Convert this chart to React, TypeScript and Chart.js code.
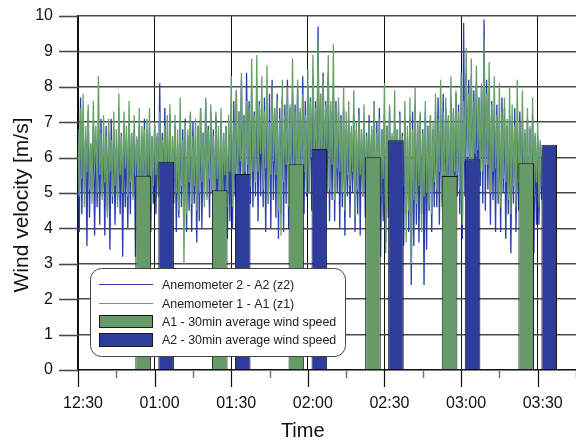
import React, { useEffect, useRef } from 'react';
import { Chart, registerables } from 'chart.js';

Chart.register(...registerables);

// ---- data ----
// minutes after 12:30
const tickMinutes = [0, 30, 60, 90, 120, 150, 180];
const tickLabels = ['12:30', '01:00', '01:30', '02:00', '02:30', '03:00', '03:30'];
const axisMinMinutes = 0;
const axisMaxMinutes = 195;

const barMinutes = [30, 60, 90, 120, 150, 180];
const a1Average = [5.49, 5.08, 5.81, 6.01, 5.48, 5.84];
const a2Average = [5.88, 5.54, 6.24, 6.49, 5.95, 6.36];

const sampleStartMinute = 0;
const sampleStepMinutes = 0.5;

// Anemometer 2 - A2 (z2), one value every 30 s
const a2Samples = [
  6.2, 3.9, 7.7, 4.4, 7.0, 5.0, 6.6, 3.5, 7.3, 4.3, 6.4, 5.1, 6.9, 3.8, 6.5, 4.6, 6.8, 4.1, 7.1, 4.9,
  6.4, 3.8, 6.9, 4.5, 6.7, 3.4, 7.1, 4.7, 6.8, 4.1, 6.3, 4.8, 7.0, 4.4, 6.7, 3.2, 6.9, 4.6, 6.5, 4.0,
  7.0, 4.4, 6.7, 4.9, 6.8, 3.2, 6.5, 4.5, 6.9, 4.4, 6.6, 4.8, 7.1, 4.2, 6.4, 4.6, 6.8, 3.9, 6.6, 4.7,
  6.9, 4.4, 6.6, 4.9, 8.1, 4.6, 6.7, 5.0, 7.4, 4.3, 6.5, 4.0, 7.2, 4.2, 6.6, 4.7, 6.9, 3.9, 6.4, 4.3,
  7.0, 4.6, 6.8, 4.1, 7.1, 3.9, 6.6, 4.5, 7.2, 3.9, 7.0, 4.7, 6.6, 3.6, 6.9, 4.2, 7.4, 4.0, 6.7, 4.8,
  7.6, 4.9, 6.9, 4.3, 7.3, 5.0, 6.8, 4.1, 7.2, 3.9, 6.6, 4.4, 7.0, 3.6, 6.7, 4.5, 6.9, 3.7, 6.5, 4.2,
  7.4, 4.0, 7.6, 4.9, 7.9, 4.3, 7.3, 5.0, 8.2, 4.6, 7.2, 4.5, 8.4, 5.3, 7.6, 4.7, 7.9, 4.6, 7.3, 4.9,
  8.0, 4.2, 7.6, 4.9, 7.2, 4.6, 7.7, 3.9, 7.5, 4.7, 7.8, 4.0, 8.2, 4.8, 7.4, 4.3, 7.8, 3.7, 7.4, 4.4,
  7.7, 3.9, 7.5, 4.7, 8.2, 4.0, 7.4, 4.8, 7.8, 4.3, 7.5, 5.0, 8.0, 4.5, 7.3, 5.1, 8.3, 4.4, 7.6, 4.9,
  8.0, 5.0, 7.7, 4.5, 8.3, 5.3, 7.6, 4.7, 9.7, 5.2, 7.8, 4.9, 8.4, 4.6, 7.6, 5.0, 8.4, 4.2, 7.3, 4.8,
  7.9, 4.2, 7.6, 5.0, 7.3, 4.0, 7.2, 4.6, 7.4, 3.8, 6.8, 4.9, 7.1, 4.3, 6.7, 5.0, 7.2, 3.9, 6.8, 4.4,
  7.4, 3.8, 6.8, 4.9, 7.1, 4.3, 6.7, 5.0, 7.2, 3.9, 6.8, 4.4, 7.6, 3.6, 7.0, 4.1, 7.4, 3.2, 6.8, 4.2,
  7.2, 3.6, 6.9, 4.3, 7.4, 4.0, 6.6, 3.4, 7.0, 4.5, 6.8, 3.7, 7.3, 4.2, 6.7, 3.5, 7.1, 4.4, 6.6, 3.9,
  7.1, 2.4, 7.3, 3.5, 7.5, 4.1, 6.9, 3.6, 7.2, 4.4, 6.8, 2.4, 7.3, 3.4, 6.9, 4.5, 7.2, 3.9, 6.8, 4.6,
  7.3, 4.6, 7.7, 4.1, 7.2, 4.8, 7.8, 4.2, 7.4, 4.7, 7.1, 4.0, 7.7, 4.6, 7.3, 4.3, 7.8, 4.9, 7.5, 4.4,
  7.4, 3.7, 9.8, 4.9, 8.4, 5.5, 8.2, 4.8, 8.3, 5.6, 7.9, 5.0, 8.1, 4.6, 7.7, 5.2, 8.0, 4.7, 9.9, 4.5,
  8.2, 5.1, 7.8, 4.1, 7.6, 4.8, 7.2, 3.9, 7.5, 4.7, 7.0, 3.9, 7.7, 5.0, 7.4, 3.7, 6.9, 4.4, 7.2, 3.3,
  7.0, 4.7, 7.4, 3.9, 6.8, 4.5, 7.3, 4.2, 7.0, 3.6, 6.7, 4.6, 7.1, 3.7, 6.8, 4.3, 7.2, 3.3, 6.6, 4.1,
  6.6, 4.1, 6.4, 4.8, 6.2,
];

// Anemometer 1 - A1 (z1), one value every 30 s
const a1Samples = [
  6.8, 4.9, 7.4, 5.4, 7.8, 4.6, 6.9, 5.6, 7.5, 5.1, 6.4, 4.7, 7.6, 5.8, 6.9, 5.0, 8.3, 5.5, 6.7, 4.8,
  7.2, 5.3, 6.6, 4.3, 7.1, 5.6, 6.5, 4.9, 7.3, 5.2, 6.8, 4.6, 7.8, 5.5, 6.6, 5.0, 7.3, 5.7, 6.9, 4.9,
  7.6, 5.3, 6.7, 4.8, 7.2, 5.6, 6.6, 5.1, 7.4, 4.6, 6.9, 5.4, 6.8, 5.0, 7.1, 5.5, 7.4, 4.7, 6.6, 5.2,
  7.0, 5.5, 6.7, 4.9, 7.3, 5.3, 6.5, 4.8, 6.9, 5.6, 7.2, 5.1, 7.5, 4.7, 6.6, 5.4, 7.2, 5.0, 6.8, 4.5,
  7.7, 5.2, 6.5, 3.0, 7.0, 4.4, 6.8, 5.3, 7.3, 4.7, 6.6, 5.2, 7.1, 4.5, 6.9, 5.0, 7.4, 5.3, 6.7, 4.6,
  7.7, 4.8, 6.8, 5.4, 7.5, 5.0, 6.6, 4.5, 7.3, 5.4, 6.9, 4.2, 7.4, 5.0, 6.7, 5.5, 6.9, 4.6, 7.2, 5.6,
  8.3, 4.6, 7.0, 5.5, 7.9, 5.2, 7.3, 5.9, 8.4, 5.0, 7.1, 5.6, 7.6, 5.8, 7.4, 5.2, 8.8, 5.6, 7.2, 5.3,
  8.9, 5.6, 7.5, 6.1, 8.3, 5.1, 7.3, 5.7, 8.6, 4.7, 7.0, 5.5, 8.0, 5.9, 7.4, 5.5, 7.6, 4.5, 7.1, 3.8,
  8.2, 5.3, 7.2, 5.8, 8.0, 4.6, 7.5, 5.4, 8.8, 5.7, 7.3, 5.4, 8.2, 4.9, 7.4, 5.7, 7.8, 5.6, 7.2, 5.0,
  8.5, 5.0, 7.6, 6.0, 8.9, 5.6, 7.4, 6.0, 9.3, 5.3, 7.8, 5.9, 8.3, 5.7, 7.5, 6.2, 8.9, 5.1, 7.6, 5.8,
  9.2, 4.8, 7.4, 5.7, 7.7, 5.6, 7.1, 5.0, 8.0, 4.5, 7.3, 5.5, 7.6, 5.2, 6.9, 5.6, 7.9, 4.3, 7.0, 5.1,
  7.2, 5.5, 6.8, 4.9, 7.5, 5.3, 6.6, 4.9, 7.0, 5.6, 6.9, 5.0, 7.6, 4.4, 6.7, 5.3, 7.1, 4.9, 6.8, 5.4,
  8.1, 3.3, 6.9, 4.9, 7.5, 4.6, 6.7, 5.3, 7.9, 3.8, 6.8, 4.7, 7.2, 4.8, 6.6, 5.2, 7.6, 3.6, 6.9, 4.5,
  7.7, 3.0, 6.8, 4.8, 8.0, 4.7, 7.0, 5.2, 7.3, 3.9, 6.7, 4.9, 7.6, 5.0, 6.9, 4.6, 7.2, 4.4, 7.0, 5.3,
  7.8, 5.1, 7.1, 5.6, 8.2, 4.6, 7.3, 5.5, 7.7, 5.3, 7.2, 4.9, 8.3, 4.7, 7.4, 5.6, 7.9, 5.5, 7.3, 5.1,
  8.4, 4.1, 7.6, 5.9, 9.1, 6.0, 7.8, 5.5, 8.8, 5.2, 7.6, 6.1, 8.6, 6.2, 7.7, 5.6, 8.1, 5.6, 9.4, 5.8,
  7.8, 5.8, 8.7, 5.0, 7.5, 5.6, 8.3, 5.7, 7.2, 4.9, 8.1, 4.6, 7.3, 5.4, 7.7, 5.3, 7.1, 4.8, 8.0, 4.4,
  7.5, 5.2, 6.9, 4.6, 8.2, 5.3, 7.0, 4.4, 7.9, 5.5, 6.8, 5.1, 7.4, 4.2, 6.9, 5.0, 7.7, 4.9, 6.7, 5.3,
  7.0, 4.6, 6.5, 5.2, 6.3,
];

const seriesLabels = [
  'Anemometer 2 - A2 (z2)',
  'Anemometer 1 - A1 (z1)',
  'A1 - 30min average wind speed',
  'A2 - 30min average wind speed',
];

// ---- styles ----
const GREEN_FILL = '#679a69';
const BLUE_FILL = '#2e3d9b';
const GREEN_LINE = '#67a069';
const BLUE_LINE = '#2a3eae';
const FONT = "'Liberation Sans', Arial, Helvetica, sans-serif";

const toPoints = (arr: number[]) =>
  arr.map((v, i) => ({ x: sampleStartMinute + i * sampleStepMinutes, y: v }));

const decorPlugin = {
  id: 'decor',
  afterDraw(chart: any) {
    const { ctx, chartArea } = chart;
    const xs = chart.scales.x;
    const ys = chart.scales.y;
    ctx.save();
    // y ticks
    ys.ticks.forEach((t: any) => {
      const py = Math.round(ys.getPixelForValue(t.value)) + 0.5;
      const major = Math.abs(t.value - Math.round(t.value)) < 1e-6;
      ctx.beginPath();
      ctx.lineWidth = 1.6;
      ctx.strokeStyle = major ? '#4a4a4a' : '#777';
      ctx.moveTo(chartArea.left - (major ? 19 : 10), py);
      ctx.lineTo(chartArea.left, py);
      ctx.stroke();
    });
    // x ticks
    xs.ticks.forEach((t: any) => {
      const px = Math.round(xs.getPixelForValue(t.value)) + 0.5;
      const major = t.value % 30 === 0;
      ctx.beginPath();
      ctx.lineWidth = major ? 1.2 : 1.5;
      ctx.strokeStyle = major ? '#111' : '#777';
      ctx.moveTo(px, chartArea.bottom);
      ctx.lineTo(px, chartArea.bottom + (major ? 17 : 8));
      ctx.stroke();
    });
    // axis titles
    ctx.fillStyle = '#111';
    ctx.textAlign = 'center';
    ctx.textBaseline = 'alphabetic';
    ctx.font = `20px ${FONT}`;
    ctx.fillText('Time', xs.getPixelForValue(88), 437);
    ctx.save();
    ctx.font = `21px ${FONT}`;
    ctx.translate(28, 205);
    ctx.rotate(-Math.PI / 2);
    ctx.fillText('Wind velocity [m/s]', 0, 0);
    ctx.restore();

    // legend
    const lx = 90.5, ly = 268.5, lw = 255, lh = 88, r = 11;
    ctx.beginPath();
    ctx.moveTo(lx + r, ly);
    ctx.lineTo(lx + lw - r, ly);
    ctx.arcTo(lx + lw, ly, lx + lw, ly + r, r);
    ctx.lineTo(lx + lw, ly + lh - r);
    ctx.arcTo(lx + lw, ly + lh, lx + lw - r, ly + lh, r);
    ctx.lineTo(lx + r, ly + lh);
    ctx.arcTo(lx, ly + lh, lx, ly + lh - r, r);
    ctx.lineTo(lx, ly + r);
    ctx.arcTo(lx, ly, lx + r, ly, r);
    ctx.closePath();
    ctx.fillStyle = '#fff';
    ctx.fill();
    ctx.lineWidth = 1;
    ctx.strokeStyle = '#444';
    ctx.stroke();

    const ds = chart.data.datasets;
    const rows = [
      { d: ds[0], kind: 'line', cy: 284.5, base: 289.3 },
      { d: ds[1], kind: 'line', cy: 303.5, base: 307.5 },
      { d: ds[2], kind: 'box', top: 315, bottom: 328, base: 326 },
      { d: ds[3], kind: 'box', top: 333, bottom: 347, base: 344 },
    ];
    rows.forEach((row: any) => {
      if (row.kind === 'line') {
        ctx.beginPath();
        ctx.lineWidth = 1;
        ctx.strokeStyle = row.d.borderColor;
        ctx.moveTo(99, row.cy);
        ctx.lineTo(153, row.cy);
        ctx.stroke();
      } else {
        ctx.fillStyle = row.d.backgroundColor;
        ctx.fillRect(99, row.top, 54, row.bottom - row.top);
        ctx.lineWidth = 1;
        ctx.strokeStyle = '#1a1a1a';
        ctx.strokeRect(99.5, row.top + 0.5, 53, row.bottom - row.top - 1);
      }
      ctx.fillStyle = '#222';
      ctx.font = `12.4px ${FONT}`;
      ctx.textAlign = 'left';
      ctx.textBaseline = 'alphabetic';
      ctx.fillText(row.d.label, 162, row.base);
    });
    ctx.restore();
  },
};

export default function App() {
  const ref = useRef<HTMLCanvasElement>(null);
  useEffect(() => {
    if (!ref.current) return;
    const chart = new Chart(ref.current, {
      type: 'bar',
      data: {
        datasets: [
          {
            type: 'line',
            label: seriesLabels[0],
            data: toPoints(a2Samples),
            borderColor: BLUE_LINE,
            borderWidth: 1.3,
            pointRadius: 0,
            tension: 0,
            order: 3,
          } as any,
          {
            type: 'line',
            label: seriesLabels[1],
            data: toPoints(a1Samples),
            borderColor: GREEN_LINE,
            borderWidth: 1.3,
            pointRadius: 0,
            tension: 0,
            order: 2,
          } as any,
          {
            type: 'bar',
            label: seriesLabels[2],
            data: barMinutes.map((m, i) => ({ x: m, y: a1Average[i] })),
            backgroundColor: GREEN_FILL,
            borderColor: '#1a1a1a',
            borderWidth: 1,
            order: 1,
            categoryPercentage: 1.2,
            barPercentage: 0.68,
          } as any,
          {
            type: 'bar',
            label: seriesLabels[3],
            data: barMinutes.map((m, i) => ({ x: m, y: a2Average[i] })),
            backgroundColor: BLUE_FILL,
            borderColor: '#1a1a1a',
            borderWidth: 1,
            order: 1,
            categoryPercentage: 1.2,
            barPercentage: 0.68,
          } as any,
        ],
      },
      options: {
        responsive: false,
        animation: false,
        layout: { padding: { top: 16, left: 0, right: 0, bottom: 0 } },
        plugins: { legend: { display: false }, tooltip: { enabled: false } },
        scales: {
          x: {
            type: 'linear',
            min: axisMinMinutes,
            max: axisMaxMinutes,
            offset: false,
            afterBuildTicks: (scale: any) => {
              const t = [];
              for (let v = axisMinMinutes; v <= axisMaxMinutes; v += 15) t.push({ value: v });
              scale.ticks = t;
            },
            afterFit: (scale: any) => {
              scale.height = 71;
              scale.paddingLeft = 0;
              scale.paddingRight = 0;
            },
            grid: {
              offset: false,
              drawTicks: false,
              color: (c: any) => (c.tick && c.tick.value % 30 === 0 && c.tick.value <= 180 ? '#111' : 'rgba(0,0,0,0)'),
              lineWidth: 1,
            },
            border: { display: true, color: '#111', width: 1.2 },
            ticks: {
              autoSkip: false,
              maxRotation: 0,
              padding: 24,
              labelOffset: 5,
              color: '#111',
              font: { size: 16, family: FONT },
              callback: (v: any) => {
                const idx = tickMinutes.indexOf(Number(v));
                return idx >= 0 ? tickLabels[idx] : '';
              },
            },
          },
          y: {
            type: 'linear',
            min: 0,
            max: 10,
            afterFit: (scale: any) => {
              scale.width = 78;
              scale.paddingTop = 0;
              scale.paddingBottom = 0;
            },
            grid: {
              drawTicks: false,
              color: (c: any) => (c.tick && Math.abs(c.tick.value % 1) < 1e-6 ? '#4a4a4a' : 'rgba(0,0,0,0)'),
              lineWidth: 1.6,
            },
            border: { display: true, color: '#111', width: 1.2 },
            ticks: {
              stepSize: 0.5,
              padding: 25,
              color: '#111',
              font: { size: 16, family: FONT },
              callback: (v: any) => (Math.abs(Number(v) % 1) < 1e-6 ? String(v) : ''),
            },
          },
        },
      },
      plugins: [decorPlugin],
    } as any);
    return () => chart.destroy();
  }, []);
  return (
    <div style={{ position: 'absolute', left: 0, top: 0, width: 576, height: 441, background: '#fff' }}>
      <canvas ref={ref} width={576} height={441} style={{ display: 'block' }} />
    </div>
  );
}
